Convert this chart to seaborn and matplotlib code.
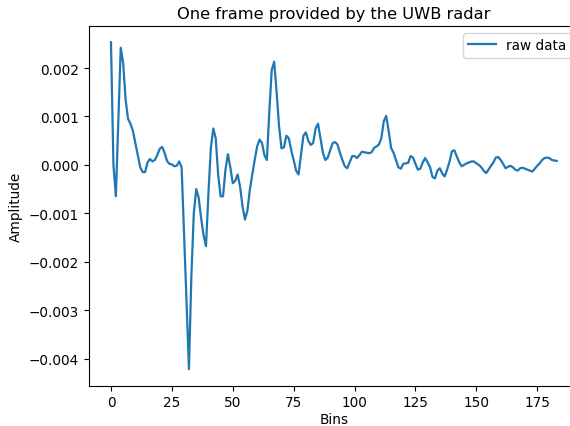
import numpy as np
import pandas as pd
import matplotlib
matplotlib.use("Agg")
import matplotlib.pyplot as plt
import seaborn as sns

# Amplitude values (x 1e-3) for each bin 0..183
amp_milli = [
    2.53, 0.0, -0.65, 0.9, 2.42, 2.1, 1.35, 0.95, 0.85, 0.7,
    0.45, 0.2, -0.05, -0.15, -0.15, 0.05, 0.12, 0.07, 0.1, 0.2,
    0.33, 0.37, 0.25, 0.08, 0.02, 0.01, -0.03, -0.02, 0.07, -0.05,
    -1.4, -2.8, -4.22, -2.3, -1.0, -0.5, -0.68, -1.1, -1.45, -1.68,
    -0.6, 0.35, 0.75, 0.55, -0.2, -0.65, -0.65, -0.1, 0.22, -0.05,
    -0.38, -0.33, -0.2, -0.45, -0.85, -1.13, -0.95, -0.52, -0.2, 0.1,
    0.38, 0.52, 0.45, 0.2, 0.1, 1.1, 1.96, 2.13, 1.5, 0.8,
    0.34, 0.36, 0.6, 0.55, 0.3, 0.1, -0.12, -0.2, 0.2, 0.6,
    0.67, 0.5, 0.41, 0.45, 0.75, 0.85, 0.55, 0.25, 0.1, 0.15,
    0.3, 0.45, 0.47, 0.42, 0.25, 0.1, -0.03, -0.07, 0.05, 0.18,
    0.18, 0.14, 0.2, 0.27, 0.26, 0.25, 0.24, 0.26, 0.35, 0.38,
    0.42, 0.55, 0.9, 1.01, 0.7, 0.35, 0.25, 0.1, -0.05, -0.08,
    0.02, 0.03, 0.04, 0.18, 0.15, 0.02, -0.1, -0.08, 0.05, 0.14,
    0.05, -0.05, -0.25, -0.28, -0.12, -0.07, -0.18, -0.24, -0.1, 0.07,
    0.28, 0.3, 0.17, 0.05, -0.03, 0.0, 0.03, 0.05, 0.07, 0.07,
    0.03, 0.0, -0.05, -0.12, -0.17, -0.1, -0.02, 0.05, 0.15, 0.16,
    0.1, 0.02, -0.07, -0.04, -0.02, -0.05, -0.1, -0.12, -0.07, -0.06,
    -0.08, -0.1, -0.12, -0.14, -0.08, -0.02, 0.03, 0.1, 0.14, 0.15,
    0.14, 0.1, 0.09, 0.08,
]
bins = list(range(len(amp_milli)))
amplitude = [v * 1e-3 for v in amp_milli]

title = "One frame provided by the UWB radar"
xlabel = "Bins"
ylabel = "Amplitude"
series_label = "raw data"
xticks = [0, 25, 50, 75, 100, 125, 150, 175]
yticks = [-0.004, -0.003, -0.002, -0.001, 0.0, 0.001, 0.002]

df = pd.DataFrame({"Bins": bins, "Amplitude": amplitude})

fig = plt.figure(figsize=(5.7, 4.27), dpi=100)
left, right, top, bottom = 88.7, 579.0, 27.0, 386.5
ax = fig.add_axes([left / 570, (427 - bottom) / 427, (right - left) / 570, (bottom - top) / 427])
sns.lineplot(data=df, x="Bins", y="Amplitude", ax=ax, color="#1f77b4",
             linewidth=1.6, label=series_label)
ax.set_xticks(xticks)
ax.set_yticks(yticks)
ax.set_yticklabels([f"{t:.3f}".replace("-", "\u2212") if t != 0 else "0.000" for t in yticks])
ax.set_title(title, fontsize=11.7)
ax.set_xlabel(xlabel, fontsize=9.8, labelpad=2)
ax.set_ylabel(ylabel, fontsize=9.8)
ax.tick_params(labelsize=9.8)
ax.legend(loc="upper right", fontsize=9.8)
fig.savefig("out.png", dpi=100)
